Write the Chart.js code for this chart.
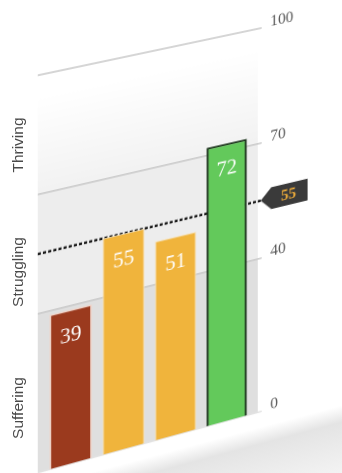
<!DOCTYPE html>
<html>
<head>
<meta charset="utf-8">
<script src="https://cdn.jsdelivr.net/npm/chart.js@4.4.0/dist/chart.umd.min.js"></script>
<style>
  html, body { margin: 0; padding: 0; }
  body {
    width: 342px; height: 473px; overflow: hidden; position: relative;
    background: linear-gradient(165deg, #fff 0%, #fff 88%, #e4e4e4 91%, #f3f3f3 100%);
  }
  #plane { position: absolute; left: 0; top: 0; transform-origin: 0 0; }
  .band {
    position: absolute; left: 18px; white-space: nowrap;
    font: 15.5px 'Liberation Sans', Arial, sans-serif; color: #4a4a4a;
    transform: translate(-50%, -50%) rotate(-90deg);
  }
</style>
</head>
<body>
<canvas id="plane" width="342" height="480"></canvas>
<div class="band" id="b0"></div>
<div class="band" id="b1"></div>
<div class="band" id="b2"></div>
<script>
// data
const categories = ['Group 1', 'Group 2', 'Group 3', 'Group 4'];
const scores = [39, 55, 51, 72];
const tickValues = [0, 40, 70, 100];
const bandNames = ['Suffering', 'Struggling', 'Thriving'];
const benchmark = 55;

// styles
const barColors = ['#9b3a1e', '#f0b43c', '#f0b43c', '#63c95b'];
const barBorders = ['#f1d3c8', '#f8e0b0', '#f8e0b0', '#1d351d'];
const barBorderWidths = [1.5, 1, 1, 2];
const bandColors = ['#dfdfdf', '#ededed', null];
const bandPad = 6;
const serif = "'Liberation Serif', 'DejaVu Serif', serif";

// left side band names (outside the tilted plane)
const bandTops = [408, 272, 145];
bandNames.forEach((n, i) => {
    const el = document.getElementById('b' + i);
    el.textContent = n;
    el.style.top = bandTops[i] + 'px';
});

const planePlugin = {
    id: 'plane',
    beforeDraw(chart) {
        const { ctx, chartArea: a, scales: { y } } = chart;
        ctx.save();
        for (let i = 0; i < tickValues.length - 1; i++) {
            const top = y.getPixelForValue(tickValues[i + 1]), bot = y.getPixelForValue(tickValues[i]);
            let fill = bandColors[i];
            if (!fill) {
                fill = ctx.createLinearGradient(0, bot, 0, top);
                fill.addColorStop(0, '#f2f2f2');
                fill.addColorStop(0.8, '#ffffff');
            }
            ctx.fillStyle = fill;
            ctx.fillRect(a.left - bandPad, top, a.right - a.left + bandPad * 2, bot - top);
        }
        ctx.lineWidth = 1.5;
        tickValues.forEach(v => {
            const py = y.getPixelForValue(v);
            ctx.strokeStyle = v === 0 ? '#e2e2e2' : '#c8c8c8';
            ctx.beginPath();
            ctx.moveTo(a.left - bandPad, py);
            ctx.lineTo(a.right + 10, py);
            ctx.stroke();
        });
        ctx.restore();
    },
    beforeDatasetsDraw(chart) {
        const { ctx, chartArea: a, scales: { y } } = chart;
        const py = y.getPixelForValue(benchmark);
        ctx.save();
        ctx.strokeStyle = '#1e1e1e';
        ctx.lineWidth = 2.5;
        ctx.setLineDash([3, 2]);
        ctx.beginPath();
        ctx.moveTo(a.left - bandPad, py);
        ctx.lineTo(a.right + 10, py);
        ctx.stroke();
        ctx.restore();
    },
    afterDatasetsDraw(chart) {
        const { ctx, chartArea: a, scales: { y } } = chart;
        ctx.save();
        // value labels inside bars
        ctx.fillStyle = '#ffffff';
        ctx.font = '21px ' + serif;
        ctx.textAlign = 'center';
        ctx.textBaseline = 'middle';
        chart.getDatasetMeta(0).data.forEach((bar, i) => {
            ctx.fillText(scores[i], bar.x, bar.y + 26);
        });
        // benchmark tag
        const py = y.getPixelForValue(benchmark), x0 = a.right + 9;
        ctx.fillStyle = '#3a3a3a';
        ctx.beginPath();
        ctx.moveTo(x0, py);
        ctx.lineTo(x0 + 11, py - 11);
        ctx.lineTo(x0 + 49, py - 11);
        ctx.lineTo(x0 + 49, py + 11);
        ctx.lineTo(x0 + 11, py + 11);
        ctx.closePath();
        ctx.fill();
        ctx.fillStyle = '#e8a83a';
        ctx.font = 'bold 16px ' + serif;
        ctx.fillText(benchmark, x0 + 29, py + 1);
        ctx.restore();
    }
};

const canvas = document.getElementById('plane');
const chart = new Chart(canvas, {
    type: 'bar',
    data: {
        labels: categories,
        datasets: [{
            data: scores, backgroundColor: barColors, borderColor: barBorders,
            borderWidth: barBorderWidths, barPercentage: 0.79, categoryPercentage: 1
        }]
    },
    options: {
        responsive: false, animation: false, devicePixelRatio: 2,
        layout: { padding: { left: 44, top: 73, bottom: 10, right: 0 } },
        plugins: { legend: { display: false }, tooltip: { enabled: false } },
        scales: {
            x: { display: false },
            y: {
                position: 'right', min: 0, max: 100,
                afterBuildTicks: s => { s.ticks = tickValues.map(v => ({ value: v })); },
                afterFit: s => { s.width = 90; },
                grid: { display: false }, border: { display: false },
                ticks: { padding: 11, labelOffset: -4, color: '#555', font: { family: serif, size: 16 } }
            }
        }
    },
    plugins: [planePlugin]
});

// tilt the flat chart onto the plane seen in the picture
function homography(src, dst) {
    const A = [], b = [];
    for (let i = 0; i < 4; i++) {
        const [x, y] = src[i], [u, v] = dst[i];
        A.push([x, y, 1, 0, 0, 0, -u * x, -u * y]); b.push(u);
        A.push([0, 0, 0, x, y, 1, -v * x, -v * y]); b.push(v);
    }
    for (let c = 0; c < 8; c++) {
        let p = c;
        for (let r = c + 1; r < 8; r++) if (Math.abs(A[r][c]) > Math.abs(A[p][c])) p = r;
        [A[c], A[p]] = [A[p], A[c]]; [b[c], b[p]] = [b[p], b[c]];
        for (let r = 0; r < 8; r++) {
            if (r === c) continue;
            const f = A[r][c] / A[c][c];
            for (let k = c; k < 8; k++) A[r][k] -= f * A[c][k];
            b[r] -= f * b[c];
        }
    }
    return b.map((v, i) => v / A[i][i]);
}

const a = chart.chartArea, ys = chart.scales.y;
const y100 = ys.getPixelForValue(100), y0 = ys.getPixelForValue(0);
const h = homography(
    [[a.left, y100], [a.right, y100], [a.left, y0], [a.right, y0]],
    [[44, 74], [252, 30], [44, 471], [252, 414]]
);
canvas.style.transform = `matrix3d(${h[0]},${h[3]},0,${h[6]},${h[1]},${h[4]},0,${h[7]},0,0,1,0,${h[2]},${h[5]},0,1)`;
</script>
</body>
</html>
